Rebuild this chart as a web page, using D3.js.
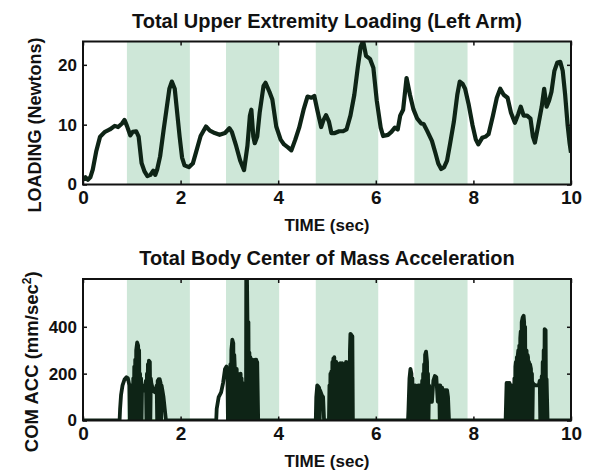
<!DOCTYPE html>
<html>
<head>
<meta charset="utf-8">
<script src="https://cdn.jsdelivr.net/npm/d3@7"></script>
<style>
  body { margin: 0; background: #fff; }
  svg text { font-family: "Liberation Sans", Arial, sans-serif; font-weight: bold; fill: #111; }
</style>
</head>
<body>
<svg id="chart" width="594" height="470"></svg>
<script>
// shaded phases (sec)
const bands = [[0.9, 2.19], [2.93, 4.02], [4.77, 6.05], [6.79, 7.88], [8.82, 10]];

const timeTicks = [0, 2, 4, 6, 8, 10];
const loadTicks = [0, 10, 20];
const accTicks = [0, 200, 400];

// upper extremity load, [sec, N]
const loading = [
  [0,0.8],[0.05,1.2],[0.1,0.8],[0.15,1.2],[0.2,2.5],[0.27,5.5],[0.35,8.0],[0.45,8.8],[0.55,9.2],[0.65,9.8],
  [0.72,9.6],[0.8,10.2],[0.85,10.8],[0.9,9.8],[0.97,8.2],[1.02,8.8],[1.09,8.9],[1.14,8.0],[1.2,3.6],[1.26,2.2],
  [1.32,1.4],[1.38,1.6],[1.44,2.3],[1.48,1.6],[1.52,2.5],[1.58,4.7],[1.65,9.0],[1.71,12.5],[1.77,16.0],[1.82,17.2],
  [1.88,16.0],[1.93,12.0],[1.98,8.0],[2.03,4.5],[2.08,3.2],[2.17,2.9],[2.25,3.5],[2.32,5.5],[2.41,8.1],[2.52,9.7],
  [2.6,9.0],[2.7,8.6],[2.8,8.3],[2.91,8.6],[3.0,9.4],[3.05,8.8],[3.14,6.4],[3.22,4.0],[3.3,2.4],[3.37,6.5],
  [3.42,11.5],[3.45,12.5],[3.49,8.0],[3.52,6.9],[3.57,8.0],[3.62,12.0],[3.7,16.5],[3.74,17.0],[3.82,15.5],[3.88,14.2],
  [3.96,9.7],[4.05,7.5],[4.12,6.7],[4.2,6.2],[4.27,5.7],[4.35,7.5],[4.43,9.5],[4.52,12.5],[4.6,14.7],[4.68,14.5],
  [4.74,14.8],[4.8,12.5],[4.88,9.6],[4.93,10.8],[4.98,11.6],[5.04,10.5],[5.09,8.6],[5.16,8.6],[5.25,8.9],[5.33,8.9],
  [5.4,9.2],[5.48,11.5],[5.56,15.0],[5.63,19.5],[5.69,23.0],[5.74,24],[5.8,21.5],[5.88,21.0],[5.95,19.5],[6.02,14.0],
  [6.1,9.5],[6.15,8.1],[6.25,8.3],[6.32,8.8],[6.39,9.5],[6.45,9.2],[6.5,11.5],[6.56,12.5],[6.63,17.8],[6.7,15.0],
  [6.77,12.6],[6.85,11.0],[6.93,10.2],[6.98,10.1],[7.05,9.0],[7.15,7.3],[7.22,5.3],[7.28,3.5],[7.34,2.6],[7.4,2.9],
  [7.46,4.0],[7.52,6.7],[7.6,10.5],[7.67,15.0],[7.72,17.2],[7.78,16.8],[7.83,16.0],[7.9,13.5],[7.98,10.0],[8.05,7.5],
  [8.1,6.7],[8.18,7.8],[8.25,8.0],[8.31,8.4],[8.4,11.5],[8.48,14.5],[8.55,16.0],[8.62,15.0],[8.7,14.5],[8.77,12.0],
  [8.85,10.3],[8.92,11.8],[8.97,13.0],[9.03,11.5],[9.1,11.5],[9.17,11.0],[9.22,8.0],[9.26,7.0],[9.32,9.5],[9.4,13.0],
  [9.45,16.0],[9.5,13.0],[9.55,14.0],[9.6,15.5],[9.66,19.0],[9.72,20.4],[9.78,20.5],[9.83,19.0],[9.88,15.0],[9.93,10.0],
  [9.97,7.0],[10,5.3]
];

// COM acceleration, [sec, mm/sec^2]
const comAcc = [
  [0,0],[0.75,0],[0.76,50],[0.78,110],[0.81,150],[0.85,175],[0.89,185],[0.92,180],[0.95,150],[0.96,0],
  [0.97,150],[0.98,0],[0.99,150],[1.00,0],[1.01,140],[1.02,0],[1.03,180],[1.04,0],[1.05,230],[1.06,0],
  [1.07,260],[1.08,0],[1.09,300],[1.11,333],[1.13,320],[1.14,0],[1.15,300],[1.16,0],[1.17,200],[1.18,0],
  [1.19,180],[1.20,0],[1.21,150],[1.25,128],[1.29,170],[1.30,0],[1.31,200],[1.32,0],[1.33,240],[1.34,0],
  [1.35,255],[1.37,250],[1.38,0],[1.39,180],[1.40,160],[1.44,126],[1.48,120],[1.51,150],[1.52,0],[1.53,170],
  [1.54,0],[1.55,177],[1.56,0],[1.57,177],[1.59,160],[1.60,0],[1.61,150],[1.63,126],[1.65,100],[1.70,0],
  [2.73,0],[2.74,50],[2.78,100],[2.83,120],[2.87,160],[2.91,220],[2.94,230],[2.96,200],[2.97,0],[2.98,200],
  [2.99,0],[3.00,190],[3.01,0],[3.02,240],[3.03,0],[3.04,300],[3.06,345],[3.08,330],[3.09,0],[3.10,280],
  [3.11,230],[3.12,0],[3.13,220],[3.14,0],[3.15,220],[3.16,0],[3.17,200],[3.18,0],[3.19,150],[3.20,0],
  [3.21,180],[3.22,0],[3.23,200],[3.24,0],[3.25,180],[3.26,0],[3.27,160],[3.28,0],[3.29,140],[3.30,0],
  [3.31,120],[3.32,0],[3.33,100],[3.34,0],[3.345,620],[3.36,620],[3.37,430],[3.38,0],[3.39,420],[3.40,0],
  [3.41,290],[3.42,0],[3.43,270],[3.44,0],[3.45,260],[3.46,0],[3.47,260],[3.48,0],[3.49,255],[3.50,0],
  [3.51,255],[3.52,0],[3.53,260],[3.54,0],[3.55,260],[3.56,0],[3.57,250],[3.59,0],
  [4.77,0],[4.78,100],[4.80,150],[4.82,145],[4.83,0],[4.84,140],[4.85,0],[4.86,128],[4.89,110],[4.92,100],
  [4.94,0],[5.04,0],[5.05,150],[5.06,0],[5.07,200],[5.08,0],[5.09,210],[5.10,0],[5.11,250],[5.12,0],
  [5.13,265],[5.14,0],[5.15,270],[5.16,0],[5.17,250],[5.18,0],[5.19,250],[5.20,0],[5.21,240],[5.22,150],
  [5.23,240],[5.24,0],[5.25,240],[5.26,150],[5.27,245],[5.28,0],[5.29,240],[5.30,150],[5.31,245],[5.32,0],
  [5.33,240],[5.34,150],[5.35,240],[5.36,0],[5.37,240],[5.38,0],[5.39,250],[5.40,0],[5.41,200],[5.42,0],
  [5.43,170],[5.44,0],[5.45,250],[5.46,0],[5.47,300],[5.48,370],[5.50,365],[5.51,0],[5.52,360],[5.53,0],
  [6.66,0],[6.67,50],[6.69,180],[6.71,220],[6.73,200],[6.74,0],[6.75,180],[6.76,0],[6.77,150],[6.78,0],
  [6.79,150],[6.80,0],[6.81,150],[6.82,0],[6.83,140],[6.84,0],[6.85,140],[6.86,0],[6.87,150],[6.88,0],
  [6.89,150],[6.90,0],[6.91,150],[6.92,0],[6.93,150],[6.94,0],[6.95,170],[6.96,0],[6.97,200],[6.98,0],
  [6.99,240],[7.00,0],[7.01,280],[7.03,294],[7.05,250],[7.06,0],[7.07,200],[7.08,0],[7.09,150],[7.12,128],
  [7.15,80],[7.18,170],[7.21,190],[7.24,185],[7.27,80],[7.30,150],[7.31,0],[7.32,150],[7.33,0],[7.34,140],
  [7.35,0],[7.36,140],[7.37,0],[7.38,130],[7.39,0],[7.40,130],[7.41,0],[7.42,130],[7.43,0],[7.44,130],
  [7.45,0],[7.46,130],[7.48,100],[7.50,0],
  [8.66,0],[8.67,80],[8.68,160],[8.69,0],[8.70,160],[8.71,0],[8.72,160],[8.73,0],[8.74,160],[8.75,0],
  [8.76,150],[8.77,0],[8.78,150],[8.79,0],[8.80,70],[8.81,0],[8.83,0],[8.84,180],[8.85,0],[8.86,230],
  [8.87,250],[8.88,0],[8.89,270],[8.90,0],[8.91,280],[8.92,300],[8.93,0],[8.94,320],[8.95,0],[8.96,350],
  [8.97,380],[8.98,0],[8.99,420],[9.01,440],[9.03,447],[9.04,420],[9.05,0],[9.06,400],[9.07,0],[9.08,300],
  [9.09,298],[9.10,0],[9.11,280],[9.12,270],[9.13,0],[9.14,250],[9.15,0],[9.16,241],[9.18,220],[9.19,0],
  [9.20,200],[9.21,0],[9.22,160],[9.23,156],[9.27,150],[9.30,150],[9.34,150],[9.36,170],[9.37,0],[9.38,170],
  [9.39,0],[9.40,189],[9.41,0],[9.42,250],[9.43,0],[9.44,300],[9.45,0],[9.46,390],[9.48,385],[9.49,0],
  [9.50,177],[9.52,0],[10,0]
];

const svg = d3.select('#chart');
const bandColor = '#cee7d8';
const lineColor = '#0e2416';

function panel(opt) {
  const x = d3.scaleLinear().domain([0, 10]).range([83, 571]);
  const y = d3.scaleLinear().domain(opt.yDomain).range([opt.bottom, opt.top]);
  const g = svg.append('g');

  g.append('clipPath').attr('id', opt.id)
    .append('rect')
    .attr('x', x(0)).attr('y', opt.top)
    .attr('width', x(10) - x(0)).attr('height', opt.bottom - opt.top);

  g.selectAll('rect.band').data(bands)
    .enter().append('rect')
    .attr('class', 'band')
    .attr('x', d => x(d[0]))
    .attr('y', opt.top)
    .attr('width', d => x(d[1]) - x(d[0]))
    .attr('height', opt.bottom - opt.top)
    .attr('fill', bandColor);

  if (opt.baseGreen) {
    g.selectAll('line.base').data(bands)
      .enter().append('line')
      .attr('x1', d => x(d[0])).attr('x2', d => x(d[1]))
      .attr('y1', opt.bottom - 0.5).attr('y2', opt.bottom - 0.5)
      .attr('stroke', '#8fd08a').attr('stroke-width', 2);
  }

  const line = d3.line().x(d => x(d[0])).y(d => y(d[1]));
  g.append('path')
    .datum(opt.data)
    .attr('clip-path', `url(#${opt.id})`)
    .attr('d', line)
    .attr('fill', 'none')
    .attr('stroke', lineColor)
    .attr('stroke-width', opt.lineWidth)
    .attr('stroke-linejoin', 'round');

  // MATLAB-style inward ticks on all four sides
  const xb = g.append('g').attr('transform', `translate(0,${opt.bottom})`)
    .call(d3.axisBottom(x).tickValues(timeTicks).tickSize(-4).tickPadding(6));
  const xt = g.append('g').attr('transform', `translate(0,${opt.top})`)
    .call(d3.axisTop(x).tickValues(timeTicks).tickSize(-4).tickFormat(''));
  const yl = g.append('g').attr('transform', `translate(${x(0)},0)`)
    .call(d3.axisLeft(y).tickValues(opt.yTicks).tickSize(-4).tickPadding(6));
  const yr = g.append('g').attr('transform', `translate(${x(10)},0)`)
    .call(d3.axisRight(y).tickValues(opt.yTicks).tickSize(-4).tickFormat(''));
  [xb, xt, yl, yr].forEach(a => {
    a.select('.domain').remove();
    a.selectAll('line').attr('stroke', '#111').attr('stroke-width', 1.5);
  });
  xb.selectAll('text').attr('font-size', 19).attr('fill', '#111').attr('font-family', null);
  yl.selectAll('text').attr('font-size', 17).attr('fill', '#111').attr('font-family', null);

  g.append('rect')
    .attr('x', x(0)).attr('y', opt.top)
    .attr('width', x(10) - x(0)).attr('height', opt.bottom - opt.top)
    .attr('fill', 'none').attr('stroke', '#111').attr('stroke-width', 2);

  g.append('text')
    .attr('x', (x(0) + x(10)) / 2).attr('y', opt.top - 14)
    .attr('text-anchor', 'middle').attr('font-size', opt.titleSize)
    .text(opt.title);

  g.append('text')
    .attr('x', (x(0) + x(10)) / 2).attr('y', opt.bottom + 46)
    .attr('text-anchor', 'middle').attr('font-size', 17)
    .text('TIME (sec)');

  const yl2 = g.append('text')
    .attr('transform', `translate(${opt.ylabX},${(opt.top + opt.bottom) / 2 + 12}) rotate(-90)`)
    .attr('text-anchor', 'middle').attr('font-size', opt.ylabSize);
  yl2.text(opt.ylabel);
  if (opt.ysup) {
    yl2.append('tspan').attr('dy', -7).attr('font-size', 12).text(opt.ysup);
    yl2.append('tspan').attr('dy', 7).text(')');
  }
}

panel({
  id: 'clipTop', top: 41.5, bottom: 184.5, yDomain: [0, 23.9], yTicks: loadTicks,
  data: loading, lineWidth: 4.2, title: 'Total Upper Extremity Loading (Left Arm)', titleSize: 20,
  ylabel: 'LOADING (Newtons)', ylabX: 41, ylabSize: 18
});

panel({
  id: 'clipBot', top: 279, bottom: 420.5, yDomain: [0, 604], yTicks: accTicks,
  data: comAcc, lineWidth: 3.8, title: 'Total Body Center of Mass Acceleration', titleSize: 20,
  ylabel: 'COM ACC (mm/sec', ysup: '2', ylabX: 38, ylabSize: 18.5, baseGreen: true
});
</script>
</body>
</html>
